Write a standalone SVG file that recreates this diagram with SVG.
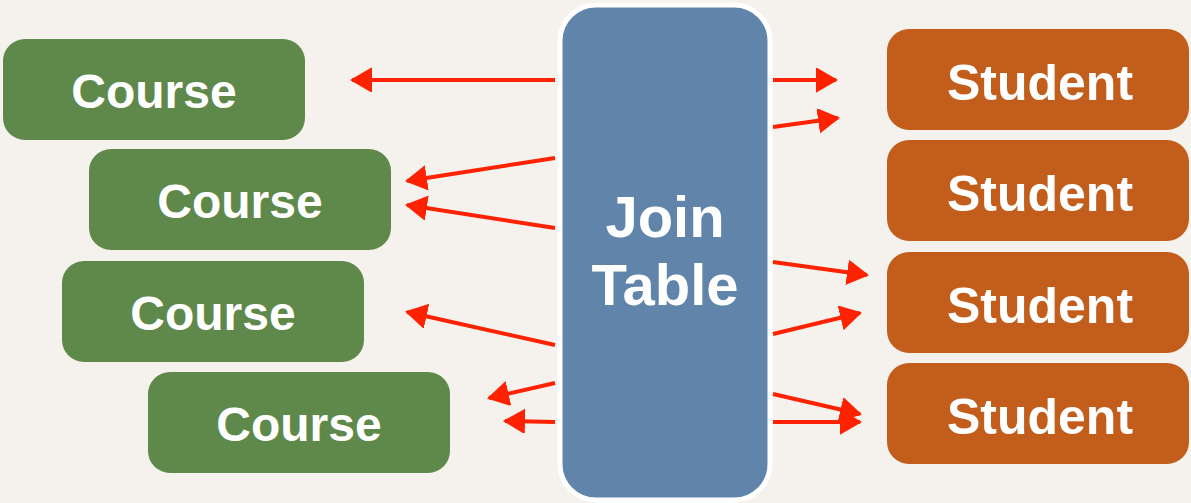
<svg xmlns="http://www.w3.org/2000/svg" width="1191" height="503" viewBox="0 0 1191 503">
<defs>
<marker id="ah" markerWidth="7" markerHeight="7" refX="5" refY="3" orient="auto" markerUnits="strokeWidth">
<path d="M0,-0.2 L5.5,3 L0,6.2 Z" fill="#ff2200"/>
</marker>
<style>
.course rect{fill:#5f884b}
.student rect{fill:#c25d1b}
.lbl{font-family:"Liberation Sans",Arial,sans-serif;font-weight:bold;fill:#ffffff;text-anchor:middle}
.conn line{stroke:#ff2200;stroke-width:4;marker-end:url(#ah)}
</style>
</defs>
<rect width="1191" height="503" fill="#f5f2ed"/>
<g id="course1" class="course"><rect x="3" y="39" width="302" height="101" rx="22"/><text class="lbl" x="154" y="108" font-size="48">Course</text></g>
<g id="course2" class="course"><rect x="89" y="149" width="302" height="101" rx="22"/><text class="lbl" x="240" y="218" font-size="48">Course</text></g>
<g id="course3" class="course"><rect x="62" y="261" width="302" height="101" rx="22"/><text class="lbl" x="213" y="330" font-size="48">Course</text></g>
<g id="course4" class="course"><rect x="148" y="372" width="302" height="101" rx="22"/><text class="lbl" x="299" y="441" font-size="48">Course</text></g>
<g id="student1" class="student"><rect x="887" y="29" width="302" height="101" rx="22"/><text class="lbl" x="1040" y="100" font-size="50">Student</text></g>
<g id="student2" class="student"><rect x="887" y="140" width="302" height="101" rx="22"/><text class="lbl" x="1040" y="211" font-size="50">Student</text></g>
<g id="student3" class="student"><rect x="887" y="252" width="302" height="101" rx="22"/><text class="lbl" x="1040" y="323" font-size="50">Student</text></g>
<g id="student4" class="student"><rect x="887" y="363" width="302" height="101" rx="22"/><text class="lbl" x="1040" y="434" font-size="50">Student</text></g>
<g id="jointable"><rect x="560" y="5" width="210" height="495" rx="36" fill="#6185aa" stroke="#ffffff" stroke-width="5"/><text class="lbl" x="665" y="237" font-size="58">Join</text><text class="lbl" x="665" y="305" font-size="58">Table</text></g>
<g id="connectors" class="conn">
<line x1="555" y1="80" x2="352" y2="80"/>
<line x1="555" y1="158" x2="407" y2="181"/>
<line x1="555" y1="228" x2="407" y2="205"/>
<line x1="555" y1="345" x2="407" y2="312"/>
<line x1="555" y1="383" x2="489" y2="398"/>
<line x1="555" y1="422" x2="505" y2="421"/>
<line x1="773" y1="80" x2="836" y2="80"/>
<line x1="773" y1="127" x2="838" y2="118"/>
<line x1="773" y1="262" x2="867" y2="275"/>
<line x1="773" y1="334" x2="860" y2="313"/>
<line x1="773" y1="394" x2="860" y2="414"/>
<line x1="773" y1="422" x2="860" y2="422"/>
</g>
</svg>
